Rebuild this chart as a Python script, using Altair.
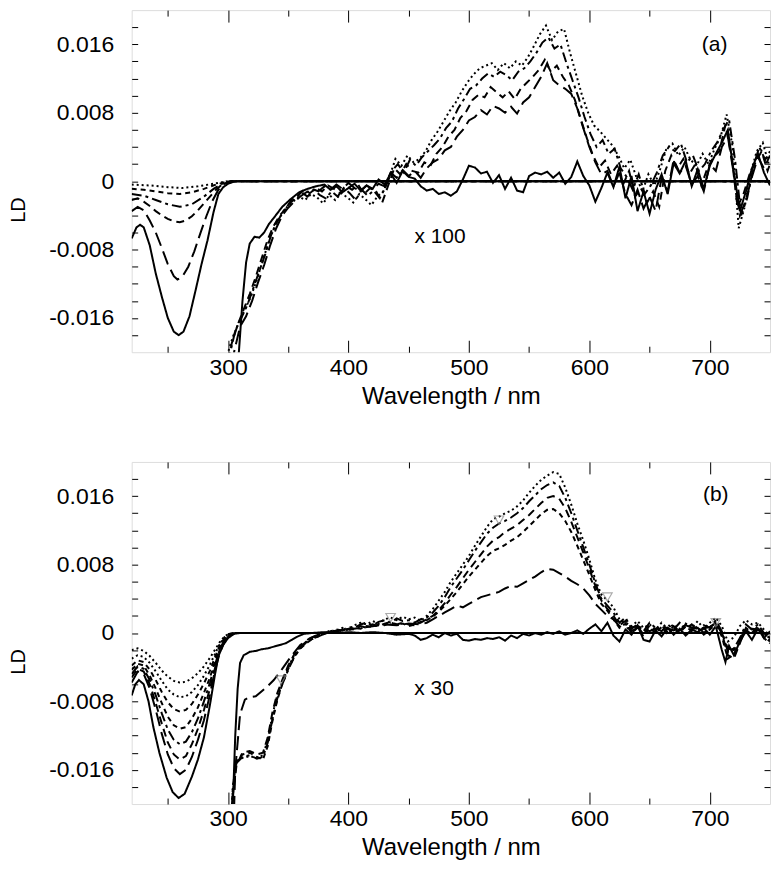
import altair as alt
import pandas as pd

# ---------------- axis ranges and tick labels ----------------
X_DOMAIN = [220, 750]
Y_DOMAIN = [-0.02, 0.02]
X_LABELS = [300, 400, 500, 600, 700]
X_MINOR = [250, 350, 450, 550, 650]
Y_LABELS = [-0.016, -0.008, 0, 0.008, 0.016]
Y_MINOR = [-0.018, -0.016, -0.014, -0.012, -0.010, -0.008, -0.006, -0.004, -0.002, 0,
           0.002, 0.004, 0.006, 0.008, 0.010, 0.012, 0.014, 0.016, 0.018]

STYLE_NAMES = ["solid", "longdash", "dash", "dashdot", "shortdash", "dot"]
STYLE_DASHES = [[1, 0], [14, 6], [8, 5], [10, 4, 3, 4], [5, 4], [2, 3]]

# ---------------- panel (a): unscaled spectra (wavelength, LD) ----------------
a_x1_solid = [(220, -0.0067), (224, -0.0054), (227, -0.0051), (230, -0.0054), (235, -0.0075), (240, -0.0108),
              (245, -0.0135), (250, -0.0160), (255, -0.0176), (259, -0.0180), (263, -0.0176), (268, -0.0158),
              (273, -0.0128), (278, -0.0097), (283, -0.0069), (288, -0.0036), (292, -0.0015), (296, -0.0007),
              (300, -0.0003), (304, -0.0001), (308, 0.0), (750, 0.0)]
a_x1_longdash = [(220, -0.0035), (225, -0.0030), (230, -0.0034), (235, -0.0046), (240, -0.0060), (245, -0.0078),
                 (250, -0.0097), (255, -0.0111), (258, -0.0115), (262, -0.0112), (267, -0.0100), (272, -0.0082),
                 (277, -0.0061), (282, -0.0041), (287, -0.0023), (292, -0.0010), (297, -0.0003), (303, 0.0),
                 (750, 0.0)]
a_x1_dash = [(220, -0.0022), (225, -0.0020), (230, -0.0024), (235, -0.0029), (240, -0.0035), (245, -0.0040),
             (250, -0.0044), (255, -0.0047), (260, -0.0048), (265, -0.0046), (270, -0.0041), (275, -0.0034),
             (280, -0.0026), (285, -0.0018), (290, -0.0010), (295, -0.0004), (300, -0.0001), (305, 0.0), (750, 0.0)]
a_x1_dashdot = [(220, -0.0015), (230, -0.0017), (240, -0.0022), (250, -0.0027), (260, -0.0030), (270, -0.0027),
                (280, -0.0018), (288, -0.0009), (295, -0.0003), (302, 0.0), (750, 0.0)]
a_x1_short = [(220, -0.0009), (230, -0.0010), (240, -0.0012), (250, -0.0014), (260, -0.0015), (270, -0.0013),
              (280, -0.0009), (290, -0.0004), (298, -0.0001), (303, 0.0), (750, 0.0)]
a_x1_dot = [(220, -0.0004), (235, -0.0005), (250, -0.0007), (262, -0.0008), (275, -0.0006), (288, -0.0003),
            (300, 0.0), (750, 0.0)]

# ---------------- panel (a): spectra multiplied by 100 ----------------
a_x100_solid = [(306, -0.030), (309, -0.020), (312, -0.0140), (315, -0.0095), (318, -0.0073), (322, -0.0065),
                (326, -0.0066), (330, -0.0060), (334, -0.0050), (338, -0.0043), (345, -0.0030), (352, -0.0021),
                (359, -0.0013), (366, -0.0009), (373, -0.0006), (380, -0.0004), (385, -0.0010), (390, -0.0006),
                (395, -0.0013), (400, -0.0008), (405, -0.0003), (410, -0.0011), (415, -0.0005), (420, -0.0009),
                (425, 0.0002), (430, -0.0004), (435, 0.0009), (440, -0.0002), (445, 0.0012), (450, 0.0005),
                (455, 0.0003), (460, -0.0006), (465, -0.0011), (470, -0.0009), (475, -0.0015), (480, -0.0013),
                (485, -0.0017), (490, -0.0012), (495, 0.0002), (500, 0.0018), (505, 0.0016), (510, 0.0009),
                (515, 0.0011), (520, -0.0002), (525, 0.0007), (530, -0.0009), (535, 0.0004), (540, -0.0011),
                (545, -0.0013), (550, 0.0006), (555, 0.0010), (560, 0.0008), (565, 0.0011), (570, 0.0004),
                (575, 0.0010), (580, -0.0003), (585, 0.0005), (590, 0.0023), (595, 0.0006), (600, -0.0005),
                (605, -0.0024), (610, -0.0008), (615, 0.0010), (620, -0.0007), (625, 0.0017), (630, -0.0020),
                (635, 0.0006), (640, -0.0035), (645, -0.0012), (650, -0.0038), (655, -0.0010), (660, 0.0008),
                (665, -0.0015), (670, 0.0021), (675, 0.0009), (680, 0.0024), (685, -0.0006), (690, 0.0014),
                (695, -0.0009), (700, 0.0018), (705, 0.0032), (710, 0.0045), (715, 0.0060), (720, 0.0010),
                (725, -0.0035), (730, -0.0012), (735, 0.0015), (740, 0.0032), (745, 0.0010), (750, -0.0005)]
a_x100_longdash = [(300, -0.026), (305, -0.020), (310, -0.0170), (315, -0.0158), (320, -0.0140), (325, -0.0118),
                   (330, -0.0098), (335, -0.0075), (340, -0.0055), (345, -0.0040), (350, -0.0031), (355, -0.0024),
                   (360, -0.0018), (365, -0.0013), (370, -0.0009), (375, -0.0012), (380, -0.0006), (385, -0.0010),
                   (390, -0.0004), (395, -0.0009), (400, -0.0002), (405, -0.0008), (410, -0.0012), (415, -0.0005),
                   (420, -0.0010), (425, -0.0003), (430, -0.0006), (435, 0.0010), (440, 0.0004), (445, 0.0013),
                   (450, 0.0006), (455, 0.0012), (460, 0.0004), (465, 0.0015), (470, 0.0022), (475, 0.0026),
                   (480, 0.0036), (485, 0.0040), (490, 0.0052), (495, 0.0060), (500, 0.0071), (505, 0.0075),
                   (510, 0.0083), (515, 0.0078), (520, 0.0088), (525, 0.0085), (530, 0.0080), (535, 0.0087),
                   (540, 0.0079), (545, 0.0092), (550, 0.0098), (555, 0.0110), (560, 0.0122), (565, 0.0138),
                   (570, 0.0118), (575, 0.0112), (580, 0.0108), (585, 0.0102), (590, 0.0085), (595, 0.0062),
                   (600, 0.0040), (605, 0.0022), (610, 0.0008), (615, 0.0012), (620, -0.0006), (625, 0.0010),
                   (630, -0.0015), (635, -0.0028), (640, -0.0010), (645, -0.0032), (650, -0.0018), (655, -0.0035),
                   (660, 0.0004), (665, -0.0012), (670, 0.0025), (675, 0.0010), (680, 0.0018), (685, -0.0004),
                   (690, 0.0006), (695, -0.0012), (700, 0.0020), (705, 0.0012), (710, 0.0040), (715, 0.0052),
                   (720, 0.0008), (725, -0.0040), (730, -0.0022), (735, 0.0005), (740, 0.0028), (745, 0.0015),
                   (750, 0.0030)]
a_x100_dash = [(298, -0.024), (303, -0.0190), (308, -0.0168), (313, -0.0150), (318, -0.0132), (323, -0.0112),
               (328, -0.0090), (333, -0.0068), (338, -0.0052), (343, -0.0040), (348, -0.0032), (353, -0.0021),
               (358, -0.0017), (363, -0.0010), (368, -0.0014), (373, -0.0008), (378, -0.0012), (383, -0.0005),
               (388, -0.0009), (393, -0.0014), (398, -0.0006), (403, -0.0010), (408, -0.0004), (413, -0.0015),
               (418, -0.0008), (423, -0.0012), (428, -0.0025), (433, -0.0005), (438, 0.0015), (443, 0.0008),
               (448, 0.0020), (453, 0.0012), (458, 0.0010), (463, 0.0022), (468, 0.0018), (473, 0.0032),
               (478, 0.0040), (483, 0.0052), (488, 0.0060), (493, 0.0074), (498, 0.0082), (503, 0.0095),
               (508, 0.0101), (513, 0.0098), (518, 0.0110), (523, 0.0104), (528, 0.0098), (533, 0.0105),
               (538, 0.0096), (543, 0.0108), (548, 0.0115), (553, 0.0122), (558, 0.0130), (563, 0.0142),
               (568, 0.0128), (573, 0.0135), (578, 0.0122), (583, 0.0112), (588, 0.0095), (593, 0.0072),
               (598, 0.0050), (603, 0.0030), (608, 0.0016), (613, 0.0024), (618, 0.0008), (623, 0.0018),
               (628, -0.0004), (633, 0.0012), (638, -0.0018), (643, -0.0008), (648, -0.0025), (653, -0.0012),
               (658, -0.0030), (663, 0.0012), (668, 0.0030), (673, 0.0015), (678, 0.0026), (683, 0.0008),
               (688, 0.0020), (693, -0.0005), (698, 0.0015), (703, 0.0028), (708, 0.0035), (713, 0.0066),
               (718, 0.0030), (723, -0.0030), (728, -0.0015), (733, 0.0008), (738, 0.0022), (743, 0.0035),
               (748, 0.0012), (750, 0.0020)]
a_x100_dashdot = [(296, -0.026), (301, -0.0205), (306, -0.0175), (311, -0.0160), (316, -0.0145), (321, -0.0125),
                  (326, -0.0105), (331, -0.0085), (336, -0.0062), (341, -0.0047), (346, -0.0035), (351, -0.0026),
                  (356, -0.0020), (361, -0.0013), (366, -0.0018), (371, -0.0010), (376, -0.0016), (381, -0.0020),
                  (386, -0.0012), (391, -0.0018), (396, -0.0008), (401, -0.0014), (406, -0.0022), (411, -0.0010),
                  (416, -0.0017), (421, -0.0011), (426, -0.0020), (431, -0.0006), (436, 0.0012), (441, 0.0020),
                  (446, 0.0010), (451, 0.0025), (456, 0.0018), (461, 0.0028), (466, 0.0035), (471, 0.0042),
                  (476, 0.0050), (481, 0.0062), (486, 0.0070), (491, 0.0085), (496, 0.0096), (501, 0.0108),
                  (506, 0.0112), (511, 0.0120), (516, 0.0126), (521, 0.0122), (526, 0.0128), (531, 0.0124),
                  (536, 0.0118), (541, 0.0128), (546, 0.0132), (551, 0.0140), (556, 0.0150), (561, 0.0162),
                  (566, 0.0168), (571, 0.0155), (576, 0.0160), (581, 0.0138), (586, 0.0118), (591, 0.0098),
                  (596, 0.0075), (601, 0.0055), (606, 0.0040), (611, 0.0048), (616, 0.0032), (621, 0.0038),
                  (626, 0.0015), (631, 0.0005), (636, -0.0010), (641, 0.0008), (646, -0.0015), (651, -0.0005),
                  (656, 0.0010), (661, 0.0030), (666, 0.0040), (671, 0.0035), (676, 0.0044), (681, 0.0022),
                  (686, 0.0030), (691, 0.0012), (696, 0.0020), (701, 0.0035), (706, 0.0045), (711, 0.0060),
                  (716, 0.0072), (721, 0.0025), (726, -0.0040), (731, -0.0020), (736, 0.0015), (741, 0.0040),
                  (746, 0.0025), (750, 0.0035)]
a_x100_dot = [(294, -0.025), (299, -0.0205), (304, -0.0182), (309, -0.0165), (314, -0.0150), (319, -0.0135),
              (324, -0.0115), (329, -0.0092), (334, -0.0070), (339, -0.0052), (344, -0.0040), (349, -0.0030),
              (354, -0.0024), (359, -0.0018), (364, -0.0022), (369, -0.0015), (374, -0.0019), (379, -0.0026),
              (384, -0.0016), (389, -0.0022), (394, -0.0014), (399, -0.0019), (404, -0.0025), (409, -0.0015),
              (414, -0.0021), (419, -0.0028), (424, -0.0018), (429, -0.0012), (434, 0.0005), (439, 0.0026),
              (444, 0.0018), (449, 0.0030), (454, 0.0022), (459, 0.0026), (464, 0.0035), (469, 0.0048),
              (474, 0.0058), (479, 0.0070), (484, 0.0082), (489, 0.0092), (494, 0.0105), (499, 0.0116),
              (504, 0.0125), (509, 0.0132), (514, 0.0135), (519, 0.0138), (524, 0.0130), (529, 0.0138),
              (534, 0.0132), (539, 0.0140), (544, 0.0135), (549, 0.0145), (554, 0.0158), (559, 0.0172),
              (564, 0.0182), (569, 0.0165), (574, 0.0175), (579, 0.0178), (584, 0.0150), (589, 0.0125),
              (594, 0.0100), (599, 0.0080), (604, 0.0065), (609, 0.0058), (614, 0.0050), (619, 0.0042),
              (624, 0.0030), (629, 0.0015), (634, 0.0025), (639, 0.0005), (644, -0.0012), (649, 0.0008),
              (654, -0.0005), (659, 0.0015), (664, 0.0038), (669, 0.0044), (674, 0.0030), (679, 0.0040),
              (684, 0.0025), (689, 0.0018), (694, 0.0032), (699, 0.0020), (704, 0.0038), (709, 0.0052),
              (714, 0.0078), (719, 0.0040), (724, -0.0055), (729, -0.0030), (734, 0.0010), (739, 0.0035),
              (744, 0.0045), (749, 0.0020)]

# ---------------- panel (b): unscaled spectra ----------------
b_x1_solid = [(220, -0.0073), (223, -0.0060), (226, -0.0055), (230, -0.0060), (234, -0.0080), (238, -0.0110),
              (243, -0.0140), (249, -0.0169), (254, -0.0186), (259, -0.0193), (264, -0.0188), (270, -0.0168),
              (275, -0.0148), (280, -0.0122), (285, -0.0084), (289, -0.0050), (292, -0.0027), (296, -0.0014),
              (300, -0.0006), (305, -0.0001), (310, 0.0), (750, 0.0)]
b_x1_longdash = [(220, -0.0058), (225, -0.0045), (230, -0.0048), (235, -0.0065), (240, -0.0090), (245, -0.0118),
                 (250, -0.0142), (255, -0.0158), (260, -0.0165), (265, -0.0160), (270, -0.0145), (275, -0.0125),
                 (280, -0.0102), (285, -0.0072), (289, -0.0045), (293, -0.0024), (297, -0.0010), (301, -0.0003),
                 (306, 0.0), (750, 0.0)]
b_x1_dash = [(220, -0.0052), (225, -0.0042), (230, -0.0045), (235, -0.0060), (240, -0.0082), (245, -0.0106),
             (250, -0.0128), (255, -0.0142), (260, -0.0148), (265, -0.0144), (270, -0.0130), (275, -0.0112),
             (280, -0.0090), (285, -0.0065), (289, -0.0042), (293, -0.0022), (297, -0.0009), (301, -0.0003),
             (306, 0.0), (750, 0.0)]
b_x1_dashdot = [(220, -0.0048), (225, -0.0039), (230, -0.0042), (235, -0.0055), (240, -0.0073), (245, -0.0094),
                (250, -0.0113), (255, -0.0125), (260, -0.0130), (265, -0.0127), (270, -0.0116), (275, -0.0100),
                (280, -0.0080), (285, -0.0058), (289, -0.0038), (293, -0.0020), (297, -0.0008), (301, -0.0002),
                (306, 0.0), (750, 0.0)]
b_x1_short = [(220, -0.0043), (225, -0.0036), (230, -0.0038), (235, -0.0050), (240, -0.0065), (245, -0.0082),
              (250, -0.0098), (255, -0.0108), (260, -0.0112), (265, -0.0110), (270, -0.0100), (275, -0.0087),
              (280, -0.0070), (285, -0.0052), (289, -0.0034), (293, -0.0018), (297, -0.0007), (301, -0.0002),
              (306, 0.0), (750, 0.0)]
b_x1_short2 = [(220, -0.0038), (225, -0.0032), (230, -0.0034), (235, -0.0043), (240, -0.0055), (245, -0.0069),
               (250, -0.0081), (255, -0.0089), (260, -0.0092), (265, -0.0090), (270, -0.0083), (275, -0.0072),
               (280, -0.0059), (285, -0.0044), (289, -0.0029), (293, -0.0015), (297, -0.0006), (301, -0.0001),
               (306, 0.0), (750, 0.0)]
b_x1_dot = [(220, -0.0030), (225, -0.0026), (230, -0.0028), (235, -0.0035), (240, -0.0045), (245, -0.0056),
            (250, -0.0066), (255, -0.0072), (260, -0.0075), (265, -0.0074), (270, -0.0069), (275, -0.0061),
            (280, -0.0050), (285, -0.0037), (289, -0.0025), (293, -0.0013), (297, -0.0005), (301, -0.0001),
            (306, 0.0), (750, 0.0)]
b_x1_dot2 = [(220, -0.0020), (225, -0.0018), (230, -0.0021), (235, -0.0027), (240, -0.0035), (245, -0.0044),
             (250, -0.0051), (255, -0.0056), (260, -0.0058), (265, -0.0057), (270, -0.0053), (275, -0.0047),
             (280, -0.0039), (285, -0.0029), (289, -0.0020), (293, -0.0011), (297, -0.0004), (301, -0.0001),
             (306, 0.0), (750, 0.0)]

# ---------------- panel (b): spectra multiplied by 30 ----------------
b_x30_solid = [(301, -0.030), (304, -0.020), (306, -0.012), (308, -0.0065), (310, -0.0035), (313, -0.0026),
               (318, -0.0022), (323, -0.0021), (328, -0.0019), (333, -0.0018), (338, -0.0016), (343, -0.0014),
               (348, -0.0012), (353, -0.0008), (358, -0.0004), (363, -0.0001), (370, 0.0), (380, 0.0001),
               (390, 0.0), (400, 0.0001), (410, 0.0), (420, 0.0001), (430, 0.0), (440, -0.0002), (450, -0.0001),
               (455, -0.0003), (460, -0.0008), (465, -0.0006), (470, -0.0002), (475, -0.0005), (480, 0.0),
               (485, -0.0003), (490, -0.0001), (495, -0.0008), (500, -0.0009), (505, -0.0007), (510, -0.0008),
               (515, -0.0006), (520, -0.0007), (525, -0.0005), (530, -0.0009), (535, -0.0003), (540, -0.0006),
               (545, -0.0001), (550, -0.0003), (555, 0.0), (560, -0.0002), (565, 0.0001), (570, -0.0001),
               (575, 0.0002), (580, -0.0002), (585, 0.0), (590, 0.0003), (595, -0.0001), (600, 0.0005),
               (605, 0.0010), (610, 0.0002), (615, 0.0012), (620, -0.0003), (625, -0.0010), (630, 0.0004),
               (635, -0.0002), (640, 0.0009), (645, -0.0008), (650, -0.0010), (655, 0.0003), (660, -0.0004),
               (665, 0.0006), (670, -0.0002), (675, 0.0005), (680, -0.0003), (685, 0.0004), (690, 0.0001),
               (695, 0.0006), (700, -0.0002), (705, 0.0008), (710, -0.0020), (713, -0.0034), (716, -0.0015),
               (720, -0.0026), (725, -0.0010), (730, 0.0002), (735, -0.0008), (740, 0.0005), (745, -0.0006),
               (750, 0.0002)]
b_x30_longdash = [(303, -0.030), (306, -0.016), (310, -0.0095), (314, -0.0078), (318, -0.0075), (323, -0.0074),
                  (328, -0.0068), (333, -0.0062), (338, -0.0055), (345, -0.0042), (352, -0.0028), (360, -0.0014),
                  (368, -0.0006), (375, -0.0002), (380, 0.0), (390, 0.0002), (400, 0.0004), (410, 0.0006),
                  (420, 0.0008), (430, 0.0010), (440, 0.0009), (450, 0.0011), (460, 0.0010), (465, 0.0012),
                  (470, 0.0016), (475, 0.0020), (480, 0.0024), (485, 0.0028), (490, 0.0032), (495, 0.0030),
                  (500, 0.0034), (505, 0.0038), (510, 0.0042), (515, 0.0044), (520, 0.0046), (525, 0.0048),
                  (530, 0.0052), (535, 0.0055), (540, 0.0054), (545, 0.0058), (550, 0.0062), (555, 0.0066),
                  (560, 0.0071), (565, 0.0075), (570, 0.0074), (575, 0.0070), (580, 0.0066), (585, 0.0061),
                  (590, 0.0057), (595, 0.0052), (600, 0.0044), (605, 0.0034), (610, 0.0027), (615, 0.0020),
                  (620, 0.0016), (625, 0.0008), (630, 0.0005), (640, 0.0008), (650, 0.0002), (660, 0.0008),
                  (670, 0.0003), (680, 0.0009), (690, 0.0004), (700, 0.0007), (705, 0.0012), (710, 0.0),
                  (715, -0.0018), (720, -0.0020), (725, -0.0008), (730, 0.0006), (740, 0.0004), (750, -0.0006)]
b_x30_short = [(300, -0.030), (304, -0.019), (307, -0.0150), (312, -0.0142), (318, -0.0140), (324, -0.0145),
               (329, -0.0148), (333, -0.0132), (337, -0.0102), (341, -0.0078), (345, -0.0060), (350, -0.0042),
               (355, -0.0028), (360, -0.0018), (365, -0.0012), (370, -0.0007), (375, -0.0004), (380, -0.0001),
               (385, 0.0001), (390, 0.0002), (395, 0.0004), (400, 0.0003), (405, 0.0006), (410, 0.0005),
               (415, 0.0008), (420, 0.0007), (425, 0.0010), (430, 0.0009), (435, 0.0012), (440, 0.0010),
               (445, 0.0011), (450, 0.0008), (455, 0.0010), (460, 0.0013), (465, 0.0015), (470, 0.0019),
               (475, 0.0025), (480, 0.0032), (485, 0.0040), (490, 0.0048), (495, 0.0057), (500, 0.0066),
               (505, 0.0074), (510, 0.0082), (515, 0.0090), (520, 0.0096), (525, 0.0099), (530, 0.0103),
               (535, 0.0108), (540, 0.0112), (545, 0.0118), (550, 0.0125), (555, 0.0132), (560, 0.0139),
               (565, 0.0144), (570, 0.0145), (575, 0.0140), (580, 0.0131), (585, 0.0118), (590, 0.0102),
               (595, 0.0085), (600, 0.0068), (605, 0.0050), (610, 0.0034), (615, 0.0026), (620, 0.0016),
               (625, 0.0006), (630, 0.0011), (635, 0.0), (640, 0.0006), (645, -0.0004), (650, 0.0006),
               (655, 0.0), (660, 0.0007), (665, -0.0002), (670, 0.0006), (675, 0.0), (680, 0.0008),
               (685, 0.0002), (690, 0.0006), (695, -0.0002), (700, 0.0004), (705, 0.0010), (710, -0.0004),
               (715, -0.0030), (720, -0.0025), (725, -0.0010), (730, 0.0004), (735, -0.0002), (740, 0.0006),
               (745, -0.0006), (750, -0.0012)]
b_x30_dash = [(300, -0.030), (304, -0.019), (307, -0.0155), (312, -0.0140), (318, -0.0138), (324, -0.0142),
              (329, -0.0140), (333, -0.0122), (337, -0.0092), (341, -0.0070), (345, -0.0055), (350, -0.0038),
              (355, -0.0025), (360, -0.0016), (365, -0.0010), (370, -0.0005), (375, -0.0002), (380, 0.0),
              (385, 0.0001), (390, 0.0003), (395, 0.0002), (400, 0.0005), (405, 0.0004), (410, 0.0008),
              (415, 0.0006), (420, 0.0010), (425, 0.0008), (430, 0.0011), (435, 0.0013), (440, 0.0010),
              (445, 0.0012), (450, 0.0010), (455, 0.0009), (460, 0.0012), (465, 0.0016), (470, 0.0020),
              (475, 0.0027), (480, 0.0035), (485, 0.0045), (490, 0.0054), (495, 0.0064), (500, 0.0074),
              (505, 0.0083), (510, 0.0092), (515, 0.0101), (520, 0.0108), (525, 0.0112), (530, 0.0118),
              (535, 0.0122), (540, 0.0126), (545, 0.0132), (550, 0.0138), (555, 0.0145), (560, 0.0152),
              (565, 0.0158), (570, 0.0160), (575, 0.0157), (580, 0.0146), (585, 0.0130), (590, 0.0112),
              (595, 0.0094), (600, 0.0075), (605, 0.0055), (610, 0.0038), (615, 0.0028), (620, 0.0020),
              (625, 0.0009), (630, 0.0014), (635, 0.0002), (640, 0.0008), (645, -0.0002), (650, 0.0009),
              (655, 0.0003), (660, 0.0009), (665, 0.0001), (670, 0.0008), (675, 0.0002), (680, 0.0010),
              (685, 0.0004), (690, 0.0008), (695, 0.0), (700, 0.0006), (705, 0.0012), (710, 0.0),
              (715, -0.0026), (720, -0.0030), (725, -0.0012), (730, 0.0006), (735, 0.0), (740, 0.0008),
              (745, -0.0004), (750, -0.0010)]
b_x30_dashdot = [(300, -0.030), (304, -0.018), (307, -0.0152), (312, -0.0145), (318, -0.0143), (324, -0.0147),
                 (329, -0.0145), (333, -0.0128), (337, -0.0100), (341, -0.0076), (345, -0.0060), (350, -0.0043),
                 (355, -0.0028), (360, -0.0018), (365, -0.0011), (370, -0.0007), (375, -0.0004), (380, -0.0001),
                 (385, 0.0002), (390, 0.0004), (395, 0.0003), (400, 0.0007), (405, 0.0006), (410, 0.0010),
                 (415, 0.0012), (420, 0.0009), (425, 0.0013), (430, 0.0015), (435, 0.0012), (440, 0.0017),
                 (445, 0.0014), (450, 0.0015), (455, 0.0012), (460, 0.0016), (465, 0.0018), (470, 0.0024),
                 (475, 0.0032), (480, 0.0042), (485, 0.0054), (490, 0.0064), (495, 0.0074), (500, 0.0085),
                 (505, 0.0096), (510, 0.0106), (515, 0.0116), (520, 0.0123), (525, 0.0128), (530, 0.0131),
                 (535, 0.0135), (540, 0.0140), (545, 0.0146), (550, 0.0154), (555, 0.0161), (560, 0.0168),
                 (565, 0.0173), (570, 0.0176), (575, 0.0172), (580, 0.0158), (585, 0.0140), (590, 0.0120),
                 (595, 0.0100), (600, 0.0080), (605, 0.0058), (610, 0.0040), (615, 0.0032), (620, 0.0024),
                 (625, 0.0012), (630, 0.0018), (635, 0.0005), (640, 0.0010), (645, 0.0002), (650, 0.0012),
                 (655, 0.0006), (660, 0.0002), (665, 0.0010), (670, 0.0004), (675, 0.0012), (680, 0.0005),
                 (685, 0.0010), (690, 0.0002), (695, 0.0009), (700, 0.0006), (705, 0.0015), (710, 0.0002),
                 (715, -0.0022), (720, -0.0018), (725, -0.0006), (730, 0.0010), (735, 0.0004), (740, 0.0010),
                 (745, 0.0), (750, -0.0008)]
b_x30_dot = [(300, -0.030), (304, -0.018), (307, -0.0150), (312, -0.0146), (318, -0.0144), (324, -0.0146),
             (329, -0.0143), (333, -0.0125), (337, -0.0095), (341, -0.0072), (345, -0.0058), (350, -0.0040),
             (355, -0.0026), (360, -0.0016), (365, -0.0010), (370, -0.0006), (375, -0.0003), (380, 0.0),
             (385, 0.0003), (390, 0.0002), (395, 0.0006), (400, 0.0004), (405, 0.0009), (410, 0.0012),
             (415, 0.0010), (420, 0.0014), (425, 0.0011), (430, 0.0016), (435, 0.0018), (440, 0.0015),
             (445, 0.0019), (450, 0.0016), (455, 0.0018), (460, 0.0014), (465, 0.0020), (470, 0.0028),
             (475, 0.0038), (480, 0.0048), (485, 0.0060), (490, 0.0070), (495, 0.0080), (500, 0.0090),
             (505, 0.0102), (510, 0.0113), (515, 0.0124), (520, 0.0133), (525, 0.0136), (530, 0.0140),
             (535, 0.0143), (540, 0.0148), (545, 0.0155), (550, 0.0164), (555, 0.0172), (560, 0.0179),
             (565, 0.0184), (570, 0.0188), (575, 0.0186), (580, 0.0170), (585, 0.0150), (590, 0.0128),
             (595, 0.0108), (600, 0.0086), (605, 0.0062), (610, 0.0045), (615, 0.0038), (620, 0.0030),
             (625, 0.0016), (630, 0.0012), (635, 0.0008), (640, 0.0014), (645, 0.0006), (650, 0.0010),
             (655, 0.0004), (660, 0.0012), (665, 0.0005), (670, 0.0010), (675, 0.0003), (680, 0.0011),
             (685, 0.0006), (690, 0.0014), (695, 0.0005), (700, 0.0012), (705, 0.0018), (710, 0.0008),
             (715, -0.0010), (720, -0.0005), (725, 0.0008), (730, 0.0015), (735, 0.0010), (740, 0.0012),
             (745, 0.0004), (750, -0.0004)]

# open triangle markers in panel (b)
b_markers = [(344, -0.0055), (435, 0.0018), (525, 0.0132), (615, 0.0042), (705, 0.0012)]

# in-plot labels: (text, wavelength, LD)
a_notes = [("x 100", 476, -0.0065), ("(a)", 704, 0.0159)]
b_notes = [("x 30", 471, -0.0065), ("(b)", 705, 0.0161)]

SERIES = [
    ("a", "a_x1_solid", "solid", a_x1_solid), ("a", "a_x1_longdash", "longdash", a_x1_longdash),
    ("a", "a_x1_dash", "dash", a_x1_dash), ("a", "a_x1_dashdot", "dashdot", a_x1_dashdot),
    ("a", "a_x1_short", "shortdash", a_x1_short), ("a", "a_x1_dot", "dot", a_x1_dot),
    ("a", "a_x100_solid", "solid", a_x100_solid), ("a", "a_x100_longdash", "longdash", a_x100_longdash),
    ("a", "a_x100_dash", "dash", a_x100_dash), ("a", "a_x100_dashdot", "dashdot", a_x100_dashdot),
    ("a", "a_x100_dot", "dot", a_x100_dot),
    ("b", "b_x1_solid", "solid", b_x1_solid), ("b", "b_x1_longdash", "longdash", b_x1_longdash),
    ("b", "b_x1_dash", "dash", b_x1_dash), ("b", "b_x1_dashdot", "dashdot", b_x1_dashdot),
    ("b", "b_x1_short", "shortdash", b_x1_short), ("b", "b_x1_short2", "shortdash", b_x1_short2),
    ("b", "b_x1_dot", "dot", b_x1_dot), ("b", "b_x1_dot2", "dot", b_x1_dot2),
    ("b", "b_x30_solid", "solid", b_x30_solid), ("b", "b_x30_longdash", "longdash", b_x30_longdash),
    ("b", "b_x30_short", "shortdash", b_x30_short), ("b", "b_x30_dash", "dash", b_x30_dash),
    ("b", "b_x30_dashdot", "dashdot", b_x30_dashdot), ("b", "b_x30_dot", "dot", b_x30_dot),
]

rows = []
for panel_id, name, style, pts in SERIES:
    for wl, ld in pts:
        rows.append({"panel": panel_id, "series": name, "style": style, "wl": wl, "ld": ld})
df = pd.DataFrame(rows)

FONT = "Liberation Sans"
W, H = 640, 343

xs = alt.Scale(domain=X_DOMAIN, nice=False, zero=False)
ys = alt.Scale(domain=Y_DOMAIN, nice=False, zero=False)
frame = pd.DataFrame({"wl": X_DOMAIN, "ld": Y_DOMAIN})

Y_LABEL_EXPR = "datum.value == 0 ? '0' : (datum.value < 0 ? '-' : '') + format(abs(datum.value), '.3f')"


def tick_axis(orient, values, size):
    return alt.Axis(orient=orient, values=values, ticks=True, tickSize=size, offset=-size,
                    labels=False, domain=False, grid=False, title=None,
                    tickColor="black", tickWidth=1)


def panel(pid, notes, markers=None):
    d = df[df.panel == pid]
    dash = alt.StrokeDash("style:N", scale=alt.Scale(domain=STYLE_NAMES, range=STYLE_DASHES), legend=None)

    x_lab = alt.Axis(orient="bottom", values=X_LABELS, format="d", ticks=False, domain=False, grid=False,
                     labelFont=FONT, labelFontSize=23, labelPadding=4, labelColor="black",
                     title="Wavelength / nm", titleFont=FONT, titleFontSize=24, titleFontWeight="normal",
                     titleColor="black", titlePadding=5)
    y_lab = alt.Axis(orient="left", values=Y_LABELS, labelExpr=Y_LABEL_EXPR, ticks=False, domain=False,
                     grid=False, labelFont=FONT, labelFontSize=23, labelPadding=18, labelColor="black",
                     title="LD", titleFont=FONT, titleFontSize=20, titleFontWeight="normal",
                     titleColor="black", titlePadding=20, titleY=200)

    lines1 = alt.Chart(d).mark_line(clip=True, color="black", strokeWidth=2).encode(
        x=alt.X("wl:Q", scale=xs, axis=x_lab),
        y=alt.Y("ld:Q", scale=ys, axis=y_lab),
        detail="series:N",
        strokeDash=dash,
    )

    inv = dict(opacity=0, size=0)
    f1 = alt.Chart(frame).mark_point(**inv).encode(
        x=alt.X("wl:Q", scale=xs, axis=tick_axis("bottom", X_LABELS, 12)),
        y=alt.Y("ld:Q", scale=ys, axis=tick_axis("left", Y_MINOR, 6)))
    f2 = alt.Chart(frame).mark_point(**inv).encode(
        x=alt.X("wl:Q", scale=xs, axis=tick_axis("bottom", X_MINOR, 6)),
        y=alt.Y("ld:Q", scale=ys, axis=tick_axis("right", Y_MINOR, 6)))
    f3 = alt.Chart(frame).mark_point(**inv).encode(
        x=alt.X("wl:Q", scale=xs, axis=tick_axis("top", X_LABELS, 12)),
        y=alt.Y("ld:Q", scale=ys, axis=None))
    f4 = alt.Chart(frame).mark_point(**inv).encode(
        x=alt.X("wl:Q", scale=xs, axis=tick_axis("top", X_MINOR, 6)),
        y=alt.Y("ld:Q", scale=ys, axis=None))

    nd = pd.DataFrame(notes, columns=["text", "wl", "ld"])
    txt = alt.Chart(nd).mark_text(font=FONT, fontSize=21, color="black", align="center",
                                  baseline="middle").encode(
        x=alt.X("wl:Q", scale=xs, axis=None),
        y=alt.Y("ld:Q", scale=ys, axis=None),
        text="text:N")

    layers = [lines1, f1, f2, f3, f4, txt]
    if markers:
        md = pd.DataFrame(markers, columns=["wl", "ld"])
        tri = alt.Chart(md).mark_point(shape="triangle-down", filled=False, color="#888888",
                                       size=90, strokeWidth=1.2).encode(
            x=alt.X("wl:Q", scale=xs, axis=None),
            y=alt.Y("ld:Q", scale=ys, axis=None))
        layers.append(tri)

    return alt.layer(*layers).resolve_axis(x="independent", y="independent").properties(width=W, height=H)


pa = panel("a", a_notes)
pb = panel("b", b_notes, b_markers)

chart = alt.vconcat(pa, pb, spacing=110, bounds="flush").properties(padding=0).configure_view(
    stroke="#222222", strokeWidth=1).configure(font=FONT)

chart.save("out.html", embed_options={"renderer": "svg", "actions": False})
